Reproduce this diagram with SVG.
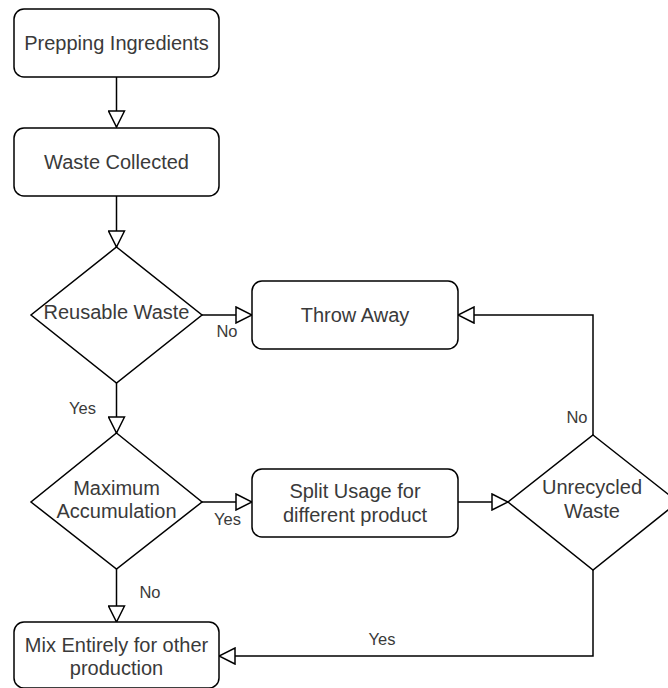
<svg xmlns="http://www.w3.org/2000/svg" width="668" height="688" viewBox="0 0 668 688">
  <style>
    .shape { fill: #ffffff; stroke: #000000; stroke-width: 1.5; }
    .edge { fill: none; stroke: #000000; stroke-width: 1.5; marker-end: url(#open-arrow); }
    .label { font-family: "Liberation Sans", Arial, sans-serif; font-size: 20px; fill: #3a3a3a; text-anchor: middle; }
    .elabel { font-family: "Liberation Sans", Arial, sans-serif; font-size: 16.5px; fill: #3a3a3a; text-anchor: middle; }
  </style>
  <defs>
    <marker id="open-arrow" viewBox="0 0 18 18" refX="17" refY="9" markerWidth="18" markerHeight="18" orient="auto" markerUnits="userSpaceOnUse">
      <path d="M1,1 L17,9 L1,17 Z" fill="#ffffff" stroke="#000000" stroke-width="1.5"/>
    </marker>
  </defs>
  <rect width="668" height="688" fill="#ffffff"/>

  <g id="connectors">
    <path class="edge" d="M116.5,77 L116.5,127"/>
    <path class="edge" d="M116.5,196 L116.5,247"/>
    <path class="edge" d="M202,315 L252,315"/>
    <path class="edge" d="M116.5,383 L116.5,433"/>
    <path class="edge" d="M202,502 L252,502"/>
    <path class="edge" d="M458,502 L508,502"/>
    <path class="edge" d="M593,435 L593,315 L458,315"/>
    <path class="edge" d="M593,570 L593,656 L219,656"/>
    <path class="edge" d="M116.5,569 L116.5,622"/>
    <text class="elabel" x="227" y="337">No</text>
    <text class="elabel" x="82.5" y="414">Yes</text>
    <text class="elabel" x="227.5" y="525">Yes</text>
    <text class="elabel" x="150" y="598">No</text>
    <text class="elabel" x="577" y="423">No</text>
    <text class="elabel" x="382" y="645">Yes</text>
  </g>

  <g id="prepping-ingredients">
    <rect class="shape" x="14" y="9" width="205" height="68" rx="10"/>
    <text class="label" x="116.5" y="50">Prepping Ingredients</text>
  </g>

  <g id="waste-collected">
    <rect class="shape" x="14" y="128" width="205" height="68" rx="10"/>
    <text class="label" x="116.5" y="169">Waste Collected</text>
  </g>

  <g id="reusable-waste">
    <polygon class="shape" points="116.5,247 202,315 116.5,383 31,315"/>
    <text class="label" x="116.5" y="319">Reusable Waste</text>
  </g>

  <g id="throw-away">
    <rect class="shape" x="252" y="281" width="206" height="68" rx="10"/>
    <text class="label" x="355" y="322">Throw Away</text>
  </g>

  <g id="maximum-accumulation">
    <polygon class="shape" points="116.5,433 202,502 116.5,569 31,502"/>
    <text class="label" x="116.5" y="495">Maximum</text>
    <text class="label" x="116.5" y="518">Accumulation</text>
  </g>

  <g id="split-usage">
    <rect class="shape" x="252" y="469" width="206" height="68" rx="10"/>
    <text class="label" x="355" y="498">Split Usage for</text>
    <text class="label" x="355" y="522">different product</text>
  </g>

  <g id="unrecycled-waste">
    <polygon class="shape" points="593,435 678,502 593,570 508,502"/>
    <text class="label" x="592" y="494">Unrecycled</text>
    <text class="label" x="592" y="518">Waste</text>
  </g>

  <g id="mix-entirely">
    <rect class="shape" x="14" y="622" width="205" height="66" rx="10"/>
    <text class="label" x="116.5" y="652">Mix Entirely for other</text>
    <text class="label" x="116.5" y="675">production</text>
  </g>
</svg>
